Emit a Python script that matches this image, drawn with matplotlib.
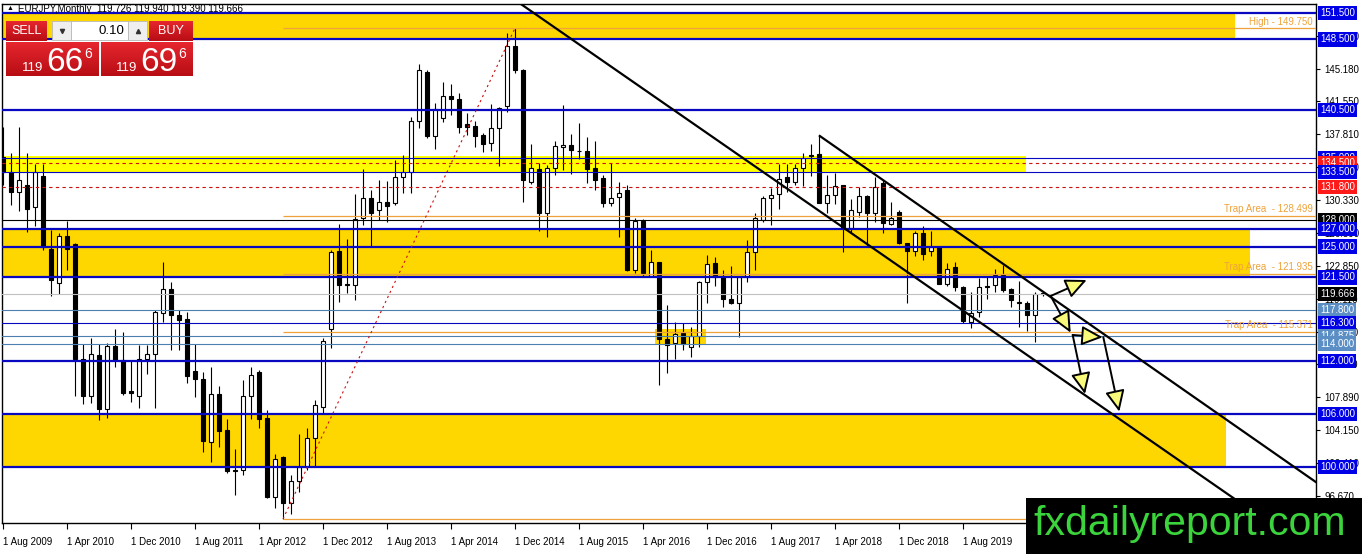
import matplotlib
matplotlib.use('Agg')
import matplotlib.pyplot as plt
import numpy as np
from matplotlib.patches import Rectangle
from matplotlib.colors import LinearSegmentedColormap

plt.rcParams['font.family'] = ['Liberation Sans', 'DejaVu Sans']

# EURJPY monthly candles, Aug 2009 .. Jun 2020
opens = [135.2, 133.5, 131.2, 132.0, 129.5, 133.0, 124.7, 120.9, 126.2, 125.3,
         112.2, 108.0, 112.7, 106.6, 113.7, 112.1, 108.6, 108.0, 112.2, 112.8,
         117.5, 120.2, 117.3, 116.8, 110.9, 110.0, 102.8, 108.3, 104.2, 99.7,
         99.7, 108.0, 110.8, 105.6, 96.6, 101.1, 95.9, 98.4, 100.0, 103.3,
         106.8, 115.7, 124.5, 120.8, 120.65, 128.2, 130.5, 129.1, 130.1, 129.9,
         132.9, 133.5, 139.2, 144.8, 137.5, 139.6, 142.1, 141.7, 138.9, 138.7,
         137.7, 136.7, 138.4, 140.9, 147.7, 145.0, 132.3, 133.8, 128.85, 133.9,
         136.3, 136.5, 135.9, 135.8, 133.9, 132.8, 130.0, 130.6, 131.4, 122.4,
         127.95, 121.7, 123.2, 114.5, 114.1, 115.2, 113.65, 114.9, 121.0, 123.1,
         121.6, 119.1, 118.6, 121.6, 124.4, 128.0, 130.5, 131.0, 132.9, 132.3,
         133.9, 135.4, 135.5, 130.0, 130.9, 132.0, 127.1, 128.97, 130.7, 128.8,
         132.2, 127.6, 128.9, 125.45, 124.5, 126.5, 124.5, 125.0, 120.8, 122.7,
         120.4, 116.5, 117.6, 120.55, 120.65, 121.8, 120.2, 118.6, 118.6, 117.2,
         119.726]
highs = [138.6, 135.6, 138.6, 135.6, 134.4, 134.4, 126.9, 126.5, 127.9, 125.4,
         114.0, 114.6, 114.0, 114.1, 115.6, 115.3, 112.1, 113.8, 113.8, 117.8,
         123.3, 121.0, 117.8, 117.6, 114.0, 110.8, 111.4, 109.2, 105.5, 102.0,
         109.9, 111.4, 111.0, 106.5, 101.5, 101.2, 99.1, 103.8, 104.4, 107.6,
         114.6, 124.6, 127.6, 125.9, 131.0, 133.8, 131.4, 132.6, 132.4, 134.8,
         135.4, 139.7, 145.7, 145.0, 141.3, 143.7, 143.4, 142.4, 140.1, 139.2,
         137.9, 141.2, 140.8, 149.2, 149.78, 145.2, 136.6, 134.45, 134.3, 137.0,
         141.1, 137.8, 139.0, 137.4, 137.0, 133.1, 134.5, 132.3, 132.0, 128.2,
         128.1, 124.6, 123.2, 118.4, 116.4, 116.3, 115.85, 121.1, 124.0, 123.8,
         122.4, 122.8, 121.7, 125.7, 128.8, 130.7, 131.6, 134.4, 134.4, 134.4,
         135.6, 136.6, 137.5, 133.1, 133.3, 132.0, 130.4, 131.8, 130.9, 132.9,
         132.6, 130.1, 129.1, 125.45, 126.8, 127.3, 126.8, 125.1, 123.1, 123.2,
         120.5, 119.9, 121.4, 121.5, 122.5, 122.9, 120.3, 121.1, 118.8, 119.8,
         119.94]
lows = [132.0, 129.7, 129.0, 126.7, 127.3, 124.6, 119.4, 119.6, 122.3, 108.0,
        107.1, 107.3, 105.3, 105.6, 111.4, 108.2, 107.4, 106.7, 110.6, 106.7,
        116.4, 113.3, 113.3, 109.5, 107.9, 101.7, 100.6, 102.3, 99.3, 96.8,
        99.1, 105.5, 104.4, 96.5, 95.4, 94.11, 94.7, 97.2, 99.7, 100.1,
        106.1, 113.5, 118.7, 119.7, 119.0, 127.4, 125.1, 128.0, 127.8, 129.7,
        131.1, 131.1, 138.4, 137.3, 136.1, 139.1, 139.9, 137.9, 137.7, 136.3,
        135.7, 135.8, 134.1, 140.3, 144.7, 130.1, 132.1, 126.8, 126.05, 133.1,
        133.7, 133.2, 134.9, 132.2, 131.4, 129.5, 129.6, 126.05, 122.2, 122.0,
        121.6, 121.5, 109.3, 110.7, 112.2, 113.3, 112.45, 113.6, 118.6, 120.5,
        118.1, 118.5, 114.7, 121.0, 122.3, 127.8, 127.4, 129.3, 131.2, 132.0,
        131.9, 133.0, 129.9, 128.85, 129.8, 124.4, 126.6, 128.4, 125.0, 127.8,
        126.5, 127.4, 125.3, 118.65, 123.9, 123.5, 123.9, 120.8, 120.5, 120.0,
        116.3, 115.8, 117.0, 119.1, 119.8, 119.8, 118.2, 115.9, 115.4, 114.2,
        119.39]
closes = [133.5, 131.2, 132.6, 129.3, 133.5, 125.0, 121.2, 126.2, 124.7, 112.2,
          108.0, 112.8, 106.6, 113.7, 112.1, 108.4, 108.4, 112.2, 112.8, 117.6,
          120.2, 117.2, 116.7, 110.3, 110.0, 102.9, 108.3, 104.1, 99.5, 99.6,
          108.0, 110.4, 105.5, 96.6, 100.9, 95.9, 98.4, 100.0, 103.3, 107.0,
          114.3, 124.4, 120.7, 120.6, 128.1, 130.5, 128.8, 130.1, 129.6, 132.9,
          133.5, 139.2, 145.0, 137.5, 140.6, 142.1, 141.7, 138.6, 138.6, 137.6,
          136.6, 138.4, 140.7, 147.7, 145.0, 132.6, 133.9, 128.85, 133.9, 136.4,
          136.5, 136.0, 135.8, 133.8, 132.6, 130.0, 130.5, 131.1, 122.35, 127.95,
          122.0, 123.2, 114.5, 113.8, 115.1, 114.0, 114.9, 121.0, 123.0, 121.6,
          119.1, 118.6, 121.6, 124.4, 128.3, 130.5, 130.9, 132.7, 132.3, 133.9,
          135.1, 135.3, 130.0, 130.9, 131.9, 127.1, 129.2, 130.7, 128.8, 131.8,
          127.7, 128.3, 125.45, 124.5, 126.5, 124.2, 124.9, 120.8, 122.5, 120.4,
          116.6, 117.5, 120.4, 120.4, 121.8, 120.1, 118.95, 118.6, 117.2, 119.6,
          119.666]

date_ticks = [0, 8, 16, 24, 32, 40, 48, 56, 64, 72, 80, 88, 96, 104, 112, 120]
date_labels = ['1 Aug 2009', '1 Apr 2010', '1 Dec 2010', '1 Aug 2011', '1 Apr 2012',
               '1 Dec 2012', '1 Aug 2013', '1 Apr 2014', '1 Dec 2014', '1 Aug 2015',
               '1 Apr 2016', '1 Dec 2016', '1 Aug 2017', '1 Apr 2018', '1 Dec 2018',
               '1 Aug 2019']
price_ticks = [148.92, 145.18, 141.55, 137.81, 134.07, 130.33, 126.59, 122.85,
               119.11, 115.37, 111.63, 107.89, 104.15, 100.41, 96.67]

# levels
blue_thick = [151.5, 148.5, 140.5, 127.0, 125.0, 121.5, 112.0, 106.0, 100.0]
blue_thin = [135.0, 133.5, 116.3]
red_levels = [134.5, 131.8]
black_levels = [128.0]
bid_level = 119.666
steel_levels = [117.8, 114.875, 114.0]
trap_levels = [128.499, 121.935, 115.371]
high_level = 149.75
low_level = 94.11

# zones: (start month, end month, low, high)
gold_zones = [(-1, 154.0, 148.5, 151.5), (-1, 155.9, 121.5, 127.0),
              (-1, 152.9, 100.0, 106.0), (81.5, 87.9, 114.0, 115.7)]
yellow_zone = (-1, 127.9, 133.5, 135.3)

trend_lines = [([64.6, 158.3], [152.6, 93.65]), ([102.1, 164.1], [137.55, 98.3])]
low_high_line = ([35, 64], [94.11, 149.78])
arrows = [((130.96, 119.40), (135.46, 121.21)),
          ((130.96, 119.40), (133.46, 115.24)),
          ((133.71, 114.98), (137.46, 114.72)),
          ((133.71, 114.98), (135.25, 108.28)),
          ((137.54, 114.72), (139.54, 106.28))]

BLUE = '#0808c0'
BLUE_LBL = '#0000e6'
RED = '#cc1111'
RED_LBL = '#ff1a1a'
STEEL = '#4a7fb0'
STEEL_LBL = '#5b8ec4'
ORANGE = '#eea33a'
GOLD = '#ffd700'

W, H = 1362, 554
fig = plt.figure(figsize=(W / 100, H / 100), dpi=100)
L, R, T, B = 2, 1316, 4, 523
ax = fig.add_axes([L / W, 1 - B / H, (R - L) / W, (B - T) / H])
ax.set_xlim(-0.125, 164.125)
ax.set_ylim(93.65, 152.52)

for x0, x1, lo, hi in gold_zones:
    ax.add_patch(Rectangle((x0, lo), x1 - x0, hi - lo, color=GOLD, lw=0, zorder=0.5))
x0, x1, lo, hi = yellow_zone
ax.add_patch(Rectangle((x0, lo), x1 - x0, hi - lo, color='#ffff00', lw=0, zorder=0.6))

# candles
idx = np.arange(len(opens))
o = np.array(opens); c = np.array(closes)
bull = c >= o
ax.vlines(idx, lows, highs, color='black', lw=0.8, zorder=3)
ax.bar(idx, np.maximum(np.abs(c - o), 0.08), 0.62, bottom=np.minimum(o, c),
       color=np.where(bull, 'white', 'black'), edgecolor='black', lw=0.8, zorder=3.5)

# horizontal levels
for p in blue_thick:
    ax.axhline(p, color=BLUE, lw=1.6, zorder=4)
for p in blue_thin:
    ax.axhline(p, color=BLUE, lw=0.8, zorder=4)
for p in red_levels:
    ax.axhline(p, color=RED, lw=0.8, ls=(0, (3, 3)), zorder=4)
for p in black_levels:
    ax.axhline(p, color='black', lw=0.8, zorder=4)
ax.axhline(bid_level, color='#c0c0c0', lw=0.8, zorder=4)
for p in steel_levels:
    ax.axhline(p, color=STEEL, lw=0.8, zorder=4)
for p in trap_levels + [high_level, low_level]:
    ax.hlines(p, 35, 164.125, color=ORANGE, lw=0.9, zorder=4)
for p in trap_levels:
    ax.text(163.7, p + 0.2, 'Trap Area  - %.3f' % p, ha='right', va='bottom',
            color=ORANGE, fontsize=7, zorder=4)
ax.text(163.7, high_level + 0.2, 'High - %.3f' % high_level, ha='right', va='bottom',
        color=ORANGE, fontsize=7, zorder=4)

ax.plot(low_high_line[0], low_high_line[1], color=RED, lw=0.8, ls=(0, (2, 3)), zorder=4)
for xs, ys in trend_lines:
    ax.plot(xs, ys, color='black', lw=1.6, zorder=5)
for (xa, ya), (xb, yb) in arrows:
    ax.annotate('', xy=(xb, yb), xytext=(xa, ya), zorder=6,
                arrowprops=dict(arrowstyle='-|>,head_length=0.65,head_width=0.3',
                                mutation_scale=20, fc='#fafa7a', ec='black', lw=1.4,
                                shrinkA=0, shrinkB=0))

# axes
for s in ax.spines.values():
    s.set_color('black')
    s.set_linewidth(1)
ax.yaxis.tick_right()
ax.set_yticks(price_ticks)
ax.set_yticklabels(['%.3f' % p for p in price_ticks])
ax.tick_params(axis='y', length=3, width=0.8, pad=3, labelsize=7)
ax.set_xticks(date_ticks)
ax.set_xticklabels(date_labels, ha='left')
ax.tick_params(axis='x', length=4, width=0.8, pad=6, labelsize=7)

trans = ax.get_yaxis_transform()
def price_box(p, color, fg='white'):
    ax.text(1.0 + 4 / (R - L), p, '%.3f' % p, transform=trans, ha='left', va='center',
            fontsize=7, color=fg, zorder=10,
            bbox=dict(boxstyle='square,pad=0.22', fc=color, ec='none'))

for p in [151.5, 148.5, 140.5, 135.0]:
    price_box(p, BLUE_LBL)
for p in red_levels:
    price_box(p, RED_LBL)
price_box(133.5, BLUE_LBL)
price_box(128.0, 'black')
for p in [127.0, 125.0, 121.5]:
    price_box(p, BLUE_LBL)
price_box(bid_level, 'black')
price_box(117.8, STEEL_LBL)
price_box(116.3, BLUE_LBL)
price_box(114.875, STEEL_LBL)
price_box(114.0, STEEL_LBL)
for p in [112.0, 106.0, 100.0]:
    price_box(p, BLUE_LBL)

# overlay in pixel coordinates: header, trade panel, watermark
ov = fig.add_axes([0, 0, 1, 1], zorder=20)
ov.set_xlim(0, W)
ov.set_ylim(H, 0)
ov.axis('off')

ov.text(10, 9, '\u25b2', fontsize=5, ha='center', va='center', color='black')
ov.text(18, 9, 'EURJPY,Monthly  %.3f %.3f %.3f %.3f' % (opens[-1], highs[-1], lows[-1], closes[-1]),
        fontsize=7, ha='left', va='center', color='black')

red_cmap = LinearSegmentedColormap.from_list('r', ['#e6262e', '#b80d14'])
grad = np.linspace(0, 1, 50).reshape(-1, 1)
for x0, x1, y0, y1 in [(6, 47, 21, 41), (149, 193, 21, 41), (6, 99, 42, 76), (101, 193, 42, 76)]:
    ov.imshow(grad, extent=(x0, x1, y1, y0), cmap=red_cmap, aspect='auto', zorder=1)
ov.add_patch(Rectangle((52, 21), 19, 19, fc='#efefef', ec='#b8b8b8', lw=0.6, zorder=2))
ov.add_patch(Rectangle((71, 21), 57, 19, fc='white', ec='#b8b8b8', lw=0.6, zorder=2))
ov.add_patch(Rectangle((128, 21), 19, 19, fc='#efefef', ec='#b8b8b8', lw=0.6, zorder=2))
ov.plot([61.5], [31], marker='v', ms=3, color='#333333', zorder=3)
ov.plot([137.5], [30.5], marker='^', ms=3, color='#333333', zorder=3)
ov.text(26.5, 31, 'SELL', fontsize=9, color='white', ha='center', va='center', zorder=3)
ov.text(171, 31, 'BUY', fontsize=9, color='white', ha='center', va='center', zorder=3)
ov.text(124, 31, '0.10', fontsize=9.5, color='black', ha='right', va='center', zorder=3)
for xs, big in [(22, '66'), (116, '69')]:
    ov.text(xs, 71, '119', fontsize=9.5, color='white', ha='left', va='baseline', zorder=3)
    ov.text(xs + 24, 71, big, fontsize=24, color='white', ha='left', va='baseline', zorder=3)
    ov.text(xs + 62, 58, '6', fontsize=10, color='white', ha='left', va='baseline', zorder=3)

ov.add_patch(Rectangle((1026, 498), W - 1026, H - 498, fc='black', ec='none', zorder=5))
ov.text(1190, 524, 'fxdailyreport.com', fontsize=29.5, color='#3cd43c',
        ha='center', va='center', zorder=6)

fig.savefig('out.png', dpi=100)
